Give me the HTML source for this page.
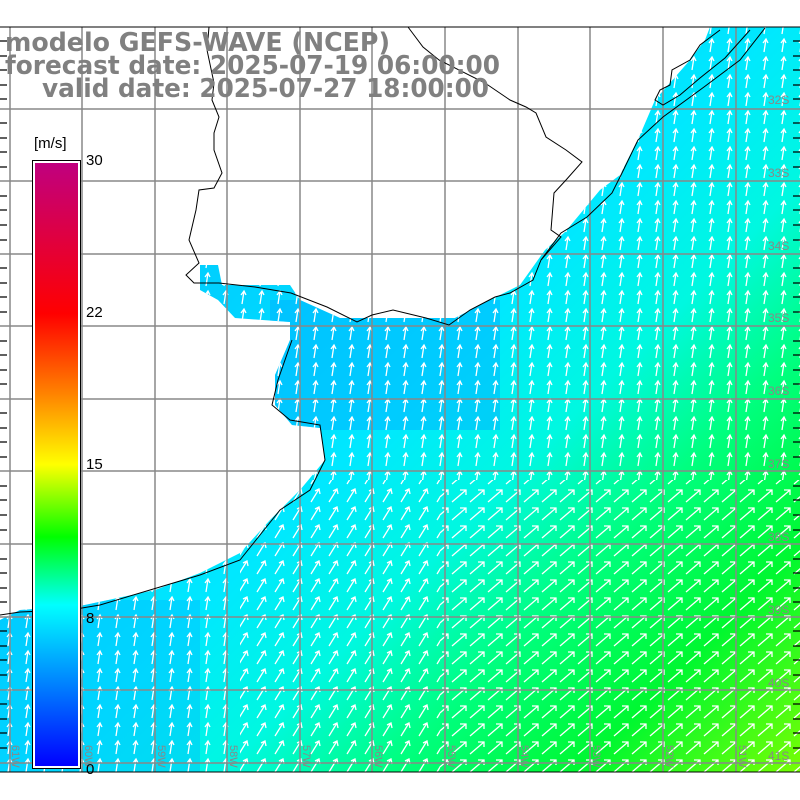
<!DOCTYPE html>
<html><head><meta charset="utf-8"><style>html,body{margin:0;padding:0;background:#fff}svg{display:block}</style></head>
<body>
<svg width="800" height="800" viewBox="0 0 800 800" xmlns="http://www.w3.org/2000/svg" font-family="Liberation Sans, sans-serif">
<defs>
<linearGradient id="sea" x1="250" y1="250" x2="800" y2="790" gradientUnits="userSpaceOnUse">
<stop offset="0" stop-color="#00d0ff"/>
<stop offset="0.28" stop-color="#00e8ff"/>
<stop offset="0.45" stop-color="#00f8e0"/>
<stop offset="0.6" stop-color="#00ff80"/>
<stop offset="0.78" stop-color="#00f830"/>
<stop offset="1" stop-color="#80ff00"/>
</linearGradient>
<linearGradient id="cb" x1="0" y1="1" x2="0" y2="0">
<stop offset="0" stop-color="#0000ff"/>
<stop offset="0.267" stop-color="#00ffff"/>
<stop offset="0.38" stop-color="#00ff00"/>
<stop offset="0.5" stop-color="#ffff00"/>
<stop offset="0.62" stop-color="#ff8000"/>
<stop offset="0.75" stop-color="#ff0000"/>
<stop offset="1" stop-color="#c0007f"/>
</linearGradient>
<pattern id="pn" width="18" height="18" patternUnits="userSpaceOnUse">
<path d="M8 16L10 3M7 7L10 3L12 7" stroke="#fff" stroke-width="1.3" fill="none"/>
</pattern>
<pattern id="pm" width="18" height="18" patternUnits="userSpaceOnUse">
<path d="M5 16L13 3M9 5L13 3L14 8" stroke="#fff" stroke-width="1.3" fill="none"/>
</pattern>
<pattern id="pe" width="18" height="18" patternUnits="userSpaceOnUse">
<path d="M2 16L16 4M10 4H16V9" stroke="#fff" stroke-width="1.3" fill="none"/>
</pattern>
<clipPath id="sc"><path d="M710,27 L800,27 L800,772 L0,772 L0,620 L20,610 L80,606 L155,590 L200,573 L240,553 L270,520 L300,490 L325,460 L320,428 L292,425 L275,405 L275,375 L290,340 L290,322 L235,318 L218,300 L200,290 L200,265 L218,265 L222,285 L290,285 L300,300 L340,318 L455,318 L490,300 L520,285 L545,250 L565,232 L585,208 L600,190 L620,175 L640,135 L655,100 L690,60 L705,40 Z"/></clipPath>
</defs>
<g clip-path="url(#sc)">
<rect x="0" y="0" width="800" height="800" fill="url(#sea)"/>
<rect x="270" y="300" width="230" height="130" fill="#00b0ff" opacity="0.5"/>
<rect x="0" y="600" width="200" height="172" fill="#00b8ff" opacity="0.4"/>
<rect x="0" y="0" width="800" height="480" fill="url(#pn)"/>
<rect x="0" y="480" width="240" height="300" fill="url(#pn)"/>
<rect x="240" y="480" width="200" height="300" fill="url(#pm)"/>
<rect x="440" y="480" width="360" height="300" fill="url(#pe)"/>
</g>
<g stroke="#888" stroke-width="1.5" fill="none">
<path d="M0 109H800M0 181H800M0 254H800M0 326H800M0 399H800M0 471H800M0 544H800M0 617H800M0 690H800M0 763H800"/>
<path d="M10 27V772M82 27V772M155 27V772M227 27V772M300 27V772M372 27V772M445 27V772M518 27V772M590 27V772M663 27V772M736 27V772"/>
</g>
<g stroke="#000" stroke-width="1" fill="none">
<path d="M408,27 L423,47 L439,60 L485,83 L510,100 L526,107 L536,113 L546,137 L566,150 L582,162 L566,180 L554,193 L551,230 L561,237 L541,260 L533,280 L510,293 L495,297 L470,310 L449,325 L426,318 L393,310 L372,315 L357,322 L327,307 L291,293 L255,287 L219,283 L194,283 L186,275 L199,263 L189,240 L196,210 L199,190 L214,188 L222,173 L214,150 L214,133 L219,117 L212,100 L214,83 L207,50 L209,27"/>
<path d="M765,28 L740,60 L704,87 L663,117 L638,140 L622,173 L612,193 L587,217 L561,233 L541,260"/>
<path d="M750,30 L725,58 L700,78 L680,95 L663,105 L655,100 L660,90 L670,85 L672,70 L690,60 L700,45 L720,30"/>
<path d="M292,340 L278,380 L272,405 L290,420 L320,425 L325,460 L310,490 L280,510 L240,560 L200,575 L150,590 L100,605 L70,610 L20,612 L0,615"/>
<path d="M0,27H800M0,772H800"/>
</g>
<g stroke="#000" stroke-width="1.2">
<path d="M0 41h7M0 56h7M0 70h7M0 85h7M0 99h7M0 123h7M0 138h7M0 152h7M0 167h7M0 196h7M0 210h7M0 225h7M0 240h7M0 268h7M0 283h7M0 297h7M0 312h7M0 341h7M0 355h7M0 370h7M0 384h7M0 413h7M0 428h7M0 442h7M0 457h7M0 486h7M0 500h7M0 515h7M0 530h7M0 559h7M0 573h7M0 588h7M0 602h7M0 631h7M0 646h7M0 660h7M0 675h7M0 704h7M0 719h7M0 733h7M0 748h7"/>
<path d="M793 41h7M793 56h7M793 70h7M793 85h7M793 99h7M793 123h7M793 138h7M793 152h7M793 167h7M793 196h7M793 210h7M793 225h7M793 240h7M793 268h7M793 283h7M793 297h7M793 312h7M793 341h7M793 355h7M793 370h7M793 384h7M793 413h7M793 428h7M793 442h7M793 457h7M793 486h7M793 500h7M793 515h7M793 530h7M793 559h7M793 573h7M793 588h7M793 602h7M793 631h7M793 646h7M793 660h7M793 675h7M793 704h7M793 719h7M793 733h7M793 748h7"/>
</g>
<g fill="#888" font-size="12">
<text x="768" y="104">32S</text><text x="768" y="177">33S</text><text x="768" y="250">34S</text><text x="768" y="322">35S</text><text x="768" y="395">36S</text><text x="768" y="468">37S</text><text x="768" y="541">38S</text><text x="768" y="614">39S</text><text x="768" y="687">40S</text><text x="768" y="760">41S</text>
</g>
<g fill="#888" font-size="11">
<text transform="translate(12,745) rotate(90)">61W</text><text transform="translate(85,745) rotate(90)">60W</text><text transform="translate(158,745) rotate(90)">59W</text><text transform="translate(230,745) rotate(90)">58W</text><text transform="translate(303,745) rotate(90)">57W</text><text transform="translate(375,745) rotate(90)">56W</text><text transform="translate(448,745) rotate(90)">55W</text><text transform="translate(521,745) rotate(90)">54W</text><text transform="translate(593,745) rotate(90)">53W</text><text transform="translate(666,745) rotate(90)">52W</text><text transform="translate(739,745) rotate(90)">51W</text>
</g>
<rect x="32.5" y="160.5" width="48" height="608" fill="#fff" stroke="#000"/>
<rect x="35" y="163" width="43" height="603" fill="url(#cb)"/>
<g font-size="15" fill="#000">
<text x="34" y="148">[m/s]</text>
<text x="86" y="165">30</text><text x="86" y="317">22</text><text x="86" y="469">15</text><text x="86" y="623">8</text><text x="86" y="774">0</text>
</g>
<g fill="#808080" font-weight="bold" font-size="26" font-family="DejaVu Sans Condensed, DejaVu Sans, sans-serif">
<text x="5" y="51" textLength="385" lengthAdjust="spacingAndGlyphs">modelo GEFS-WAVE (NCEP)</text>
<text x="5" y="74" textLength="495" lengthAdjust="spacingAndGlyphs">forecast date: 2025-07-19 06:00:00</text>
<text x="42" y="97" textLength="447" lengthAdjust="spacingAndGlyphs">valid date: 2025-07-27 18:00:00</text>
</g>
</svg>
</body></html>
